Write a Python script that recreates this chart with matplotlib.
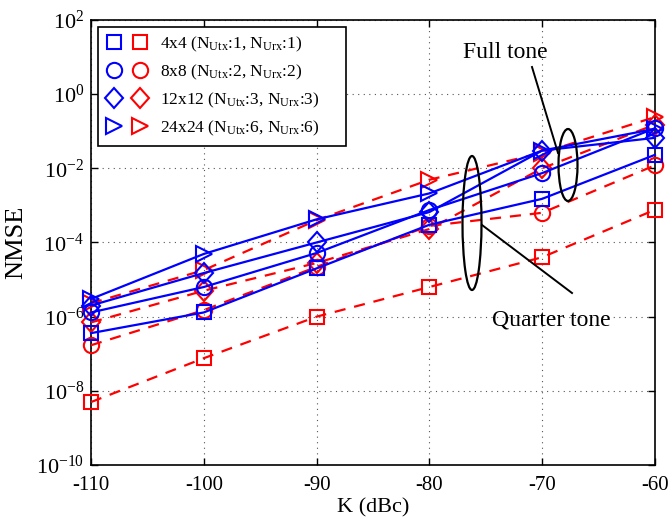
import matplotlib
matplotlib.use("Agg")
import matplotlib.pyplot as plt
from matplotlib.lines import Line2D
from matplotlib.patches import Ellipse
from matplotlib.legend_handler import HandlerTuple
from matplotlib.transforms import Affine2D
import numpy as np

plt.rcParams['font.family'] = ['Liberation Serif', 'DejaVu Serif']
plt.rcParams['mathtext.fontset'] = 'custom'
plt.rcParams['mathtext.rm'] = 'Liberation Serif'
plt.rcParams['mathtext.it'] = 'Liberation Serif:italic'

K = [-110, -100, -90, -80, -70, -60]

# blue solid series
blue_4x4 = [3.6e-7, 1.3e-6, 2.0e-5, 3.0e-4, 1.5e-3, 2.3e-2]
blue_8x8 = [1.3e-6, 6.3e-6, 5.2e-5, 7.5e-4, 7.4e-3, 1.2e-1]
blue_12x12 = [2.0e-6, 1.5e-5, 1.0e-4, 6.6e-4, 3.0e-2, 6.6e-2]
blue_24x24 = [3.0e-6, 4.9e-5, 4.2e-4, 2.1e-3, 3.0e-2, 1.15e-1]

# red dashed series
red_4x4 = [5.0e-9, 7.6e-8, 1.0e-6, 6.3e-6, 4.0e-5, 7.6e-4]
red_8x8 = [1.7e-7, 1.5e-6, 2.2e-5, 2.8e-4, 6.3e-4, 1.2e-2]
red_12x12 = [7.0e-7, 5.0e-6, 2.8e-5, 2.3e-4, 1.0e-2, 1.5e-1]
red_24x24 = [2.3e-6, 1.8e-5, 4.0e-4, 4.9e-3, 2.6e-2, 2.4e-1]

labels = [r'4x4 (N$_{\rm Utx}$:1, N$_{\rm Urx}$:1)',
          r'8x8 (N$_{\rm Utx}$:2, N$_{\rm Urx}$:2)',
          r'12x12 (N$_{\rm Utx}$:3, N$_{\rm Urx}$:3)',
          r'24x24 (N$_{\rm Utx}$:6, N$_{\rm Urx}$:6)']

markers = ['s', 'o', 'D', '>']
msizes = [9.5, 11, 10.2, 12]
blue_series = [blue_4x4, blue_8x8, blue_12x12, blue_24x24]
red_series = [red_4x4, red_8x8, red_12x12, red_24x24]

fig = plt.figure(figsize=(6.69, 5.22), dpi=100)
ax = fig.add_axes([0.136, 0.109, 0.843, 0.853])

def mstyle(m):
    if m == 'D':
        return matplotlib.markers.MarkerStyle('D', transform=Affine2D().scale(0.86, 1.0))
    return m

def draw(series, color, ls):
    for ys, m, ms in zip(series, markers, msizes):
        ax.plot(K, ys, color=color, ls=ls, lw=1.6, marker=mstyle(m), ms=ms,
                mfc='none', mec=color, mew=1.5, clip_on=False, zorder=3)

draw(red_series, '#ff0000', (0, (5, 4)))
draw(blue_series, '#0000ff', '-')

ax.set_yscale('log')
ax.set_xlim(-110, -60)
ax.set_ylim(1e-10, 1e2)
ax.set_xticks(K)
ax.set_xticklabels([str(k) for k in K])
ax.set_yticks([1e-10, 1e-8, 1e-6, 1e-4, 1e-2, 1e0, 1e2])
ax.yaxis.set_minor_locator(matplotlib.ticker.NullLocator())
ax.tick_params(direction='in', top=True, right=True, length=5, width=1)
ax.tick_params(axis='x', labelsize=15, pad=8)
ax.tick_params(axis='y', labelsize=16, pad=5)
ax.grid(True, which='major', ls=(0, (1, 4)), color='#555555', lw=0.8)
for s in ax.spines.values():
    s.set_linewidth(1.2)
ax.set_xlabel('K (dBc)', fontsize=16, labelpad=2)
ax.set_ylabel('NMSE', fontsize=19, labelpad=6)

# legend
handles = []
for m, ms in zip(markers, msizes):
    hb = Line2D([], [], ls='none', marker=mstyle(m), ms=ms, mfc='none', mec='#0000ff', mew=1.5)
    hr = Line2D([], [], ls='none', marker=mstyle(m), ms=ms, mfc='none', mec='#ff0000', mew=1.5)
    handles.append((hb, hr))
leg = ax.legend(handles, labels, handler_map={tuple: HandlerTuple(ndivide=None, pad=0.6)},
                loc='upper left', bbox_to_anchor=(0.0124, 0.984, 0.44, 0.0), mode='expand',
                fontsize=12.5, fancybox=False, edgecolor='black', framealpha=1, handlelength=2.4,
                handletextpad=0.75, labelspacing=0.5, borderpad=0.45, borderaxespad=0)
leg.get_frame().set_linewidth(1.2)

# annotations (figure pixel coordinates)
e1 = Ellipse((0, 0), 19, 72, fill=False, ec='black', lw=1.6)
e1.set_transform(Affine2D().translate(568, 522 - 165))
fig.add_artist(e1)
e2 = Ellipse((0, 0), 19, 134, fill=False, ec='black', lw=1.6)
e2.set_transform(Affine2D().translate(472, 522 - 223))
fig.add_artist(e2)
fig.add_artist(Line2D([532, 558], [522 - 67, 522 - 153], color='black', lw=1.4, transform=None))
fig.add_artist(Line2D([482, 572], [522 - 225, 522 - 293], color='black', lw=1.4, transform=None))

fig.text(505 / 669, 1 - 52 / 522, 'Full tone', fontsize=17, ha='center', va='center')
fig.text(551 / 669, 1 - 320 / 522, 'Quarter tone', fontsize=17, ha='center', va='center')

fig.savefig('out.png', dpi=100)
